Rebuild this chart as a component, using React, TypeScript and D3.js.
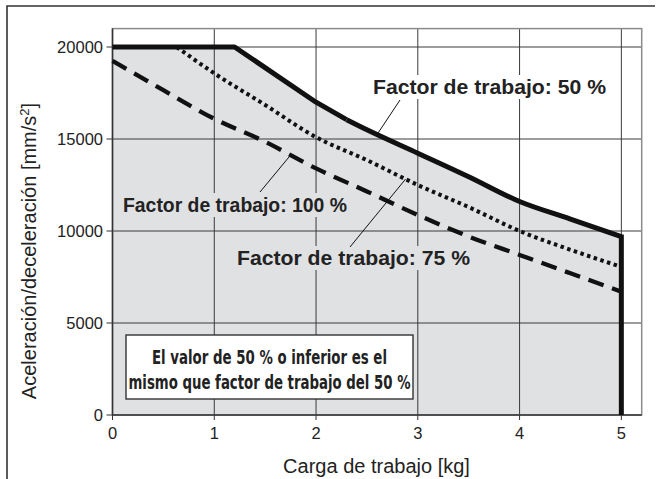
import React from 'react';
import * as d3 from 'd3';

const W = 658;
const H = 479;

// axis ticks
const xTicks = [0, 1, 2, 3, 4, 5];
const yTicks = [0, 5000, 10000, 15000, 20000];

// Factor de trabajo: 50 %
const load50 = [0, 1.2, 2, 2.3, 2.5, 3, 3.5, 4, 4.5, 5];
const acc50 = [20000, 20000, 17000, 16050, 15500, 14230, 12950, 11600, 10650, 9700];
// Factor de trabajo: 75 %
const load75 = [0.63, 1, 1.5, 2, 2.5, 3, 3.5, 4, 4.5, 5];
const acc75 = [20000, 18570, 16850, 15100, 13850, 12500, 11300, 10000, 8980, 8050];
// Factor de trabajo: 100 %
const load100 = [0, 0.5, 1, 1.5, 2, 2.5, 3, 3.5, 4, 4.5, 5];
const acc100 = [19250, 17650, 16100, 14850, 13400, 12150, 10870, 9700, 8700, 7700, 6700];

const labelTexts = ['Factor de trabajo: 50 %', 'Factor de trabajo: 100 %', 'Factor de trabajo: 75 %'];
const noteLines = ['El valor de 50 % o inferior es el', 'mismo que factor de trabajo del 50 %'];

const FONT = '"Liberation Sans", Arial, Helvetica, sans-serif';
const NARROW = '"Liberation Sans Narrow", "DejaVu Sans Condensed", "Liberation Sans", sans-serif';

const x = d3.scaleLinear().domain([0, 5.2]).range([112.5, 641.7]);
const y = d3.scaleLinear().domain([0, 21000]).range([415, 28.6]);

const zip = (xs: number[], ys: number[]) => xs.map((v, i) => [v, ys[i]] as [number, number]);

const lineStraight = d3.line<[number, number]>().x(d => x(d[0])).y(d => y(d[1]));
const lineSmooth = d3.line<[number, number]>().x(d => x(d[0])).y(d => y(d[1])).curve(d3.curveMonotoneX);

const pts50 = zip(load50, acc50);
const pts50a = pts50.slice(0, 4); // flat part and steep part (sharp corners)
const pts50b = pts50.slice(3); // smooth tail
const pts75 = zip(load75, acc75);
const pts100 = zip(load100, acc100);

const areaStraight = d3.area<[number, number]>().x(d => x(d[0])).y0(y(0)).y1(d => y(d[1]));
const areaSmooth = d3.area<[number, number]>().x(d => x(d[0])).y0(y(0)).y1(d => y(d[1])).curve(d3.curveMonotoneX);

const interp = (xs: number[], ys: number[], v: number) => {
  for (let i = 0; i < xs.length - 1; i++) {
    if (v >= xs[i] && v <= xs[i + 1]) {
      const t = (v - xs[i]) / (xs[i + 1] - xs[i]);
      return ys[i] + t * (ys[i + 1] - ys[i]);
    }
  }
  return ys[ys.length - 1];
};

// annotation layout (pixels) with leader anchors in data space
const labels = [
  { text: labelTexts[0], tx: 373, ty: 94, len: 233, bg: '#ffffff', from: [400, 100], at: 2.6, xs: load50, ys: acc50 },
  { text: labelTexts[1], tx: 123, ty: 212, len: 224, bg: '#e0e1e3', from: [260, 192], at: 1.75, xs: load100, ys: acc100 },
  { text: labelTexts[2], tx: 237, ty: 265, len: 233, bg: '#e0e1e3', from: [350, 247], at: 2.88, xs: load75, ys: acc75 },
];

export default function App() {
  const x0 = x(0);
  const x1 = x(5.2);
  const yTop = y(21000);
  const yBot = y(0);
  return (
    <svg width={W} height={H} style={{ position: 'absolute', left: 0, top: 0, background: '#fff' }}>
      {/* outer frame */}
      <polyline points={`7,${H} 7,6 655,6`} fill="none" stroke="#333" strokeWidth={1.6} />

      {/* shaded area */}
      <path d={areaStraight(pts50a) || ''} fill="#e0e1e3" stroke="#e0e1e3" strokeWidth={0.5} />
      <path d={areaSmooth(pts50b) || ''} fill="#e0e1e3" stroke="#e0e1e3" strokeWidth={0.5} />

      {/* grid */}
      {xTicks.filter(t => t > 0).map(t => (
        <line key={'gx' + t} x1={x(t)} x2={x(t)} y1={yTop} y2={yBot} stroke="#3a3a3a" strokeWidth={1} />
      ))}
      {yTicks.filter(t => t > 0).map(t => (
        <line key={'gy' + t} x1={x0} x2={x1} y1={y(t)} y2={y(t)} stroke="#3a3a3a" strokeWidth={1} />
      ))}
      {/* plot border */}
      <rect x={x0} y={yTop} width={x1 - x0} height={yBot - yTop} fill="none" stroke="#8a8a8a" strokeWidth={1.5} />
      <line x1={x0} x2={x0} y1={yTop} y2={yBot} stroke="#333" strokeWidth={1.5} />
      <line x1={x0} x2={x1} y1={yBot} y2={yBot} stroke="#333" strokeWidth={1.5} />

      {/* ticks and tick labels */}
      {yTicks.map(t => (
        <g key={'ty' + t}>
          <line x1={x0 - 6} x2={x0} y1={y(t)} y2={y(t)} stroke="#333" strokeWidth={1} />
          <text x={103} y={y(t)} dy="0.36em" textAnchor="end" fontFamily={FONT} fontSize={16.5} fill="#222">{t}</text>
        </g>
      ))}
      {xTicks.map(t => (
        <g key={'tx' + t}>
          <line x1={x(t)} x2={x(t)} y1={yBot} y2={yBot + 5} stroke="#333" strokeWidth={1} />
          <text x={x(t)} y={439} textAnchor="middle" fontFamily={FONT} fontSize={16.5} fill="#222">{t}</text>
        </g>
      ))}

      {/* axis titles */}
      <text x={376.5} y={473} textAnchor="middle" fontFamily={FONT} fontSize={20} fill="#222">Carga de trabajo [kg]</text>
      <text transform="translate(36,251) rotate(-90)" textAnchor="middle" fontFamily={FONT} fontSize={20} fill="#222">
        Aceleración/deceleración [mm/s<tspan dy="-7" fontSize={13}>2</tspan><tspan dy="7">]</tspan>
      </text>

      {/* label backgrounds */}
      {labels.map((l, i) => (
        <rect key={'lb' + i} x={l.tx - 3} y={l.ty - 19} width={l.len + 6} height={24} fill={l.bg} />
      ))}

      {/* curves */}
      <path d={lineSmooth(pts100) || ''} fill="none" stroke="#111" strokeWidth={4.3} strokeDasharray="16,9" />
      <path d={lineSmooth(pts75) || ''} fill="none" stroke="#111" strokeWidth={4} strokeDasharray="3.5,3.5" />
      <path d={lineStraight(pts50a) || ''} fill="none" stroke="#111" strokeWidth={5} strokeLinejoin="round" />
      <path d={lineSmooth(pts50b) || ''} fill="none" stroke="#111" strokeWidth={5} strokeLinejoin="round" />
      <line x1={x(5)} x2={x(5)} y1={y(acc50[acc50.length - 1]) - 2} y2={yBot} stroke="#111" strokeWidth={5} />

      {/* labels and leaders */}
      {labels.map((l, i) => (
        <g key={'lab' + i}>
          <line x1={l.from[0]} y1={l.from[1]} x2={x(l.at)} y2={y(interp(l.xs, l.ys, l.at))} stroke="#111" strokeWidth={1} />
          <text x={l.tx} y={l.ty} fontFamily={FONT} fontWeight="bold" fontSize={20.5} fill="#222" textLength={l.len} lengthAdjust="spacingAndGlyphs">{l.text}</text>
        </g>
      ))}

      {/* note box */}
      <rect x={126} y={335} width={287} height={64} fill="#fff" stroke="#333" strokeWidth={1.4} />
      <text x={269.5} y={363.5} textAnchor="middle" fontFamily={NARROW} fontWeight="bold" fontSize={19} fill="#222" textLength={235} lengthAdjust="spacingAndGlyphs">{noteLines[0]}</text>
      <text x={269.5} y={388.5} textAnchor="middle" fontFamily={NARROW} fontWeight="bold" fontSize={19} fill="#222" textLength={282} lengthAdjust="spacingAndGlyphs">{noteLines[1]}</text>
    </svg>
  );
}
